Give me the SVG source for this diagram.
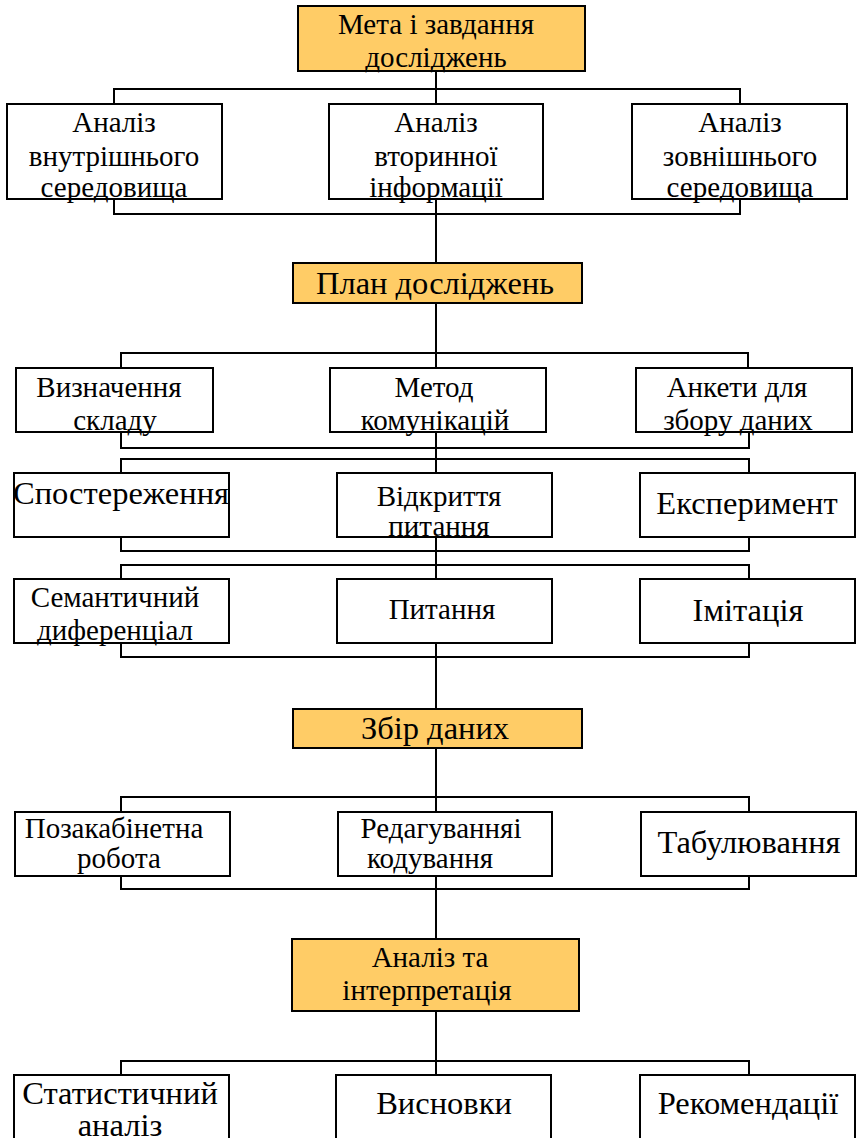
<svg xmlns="http://www.w3.org/2000/svg" width="857" height="1138" viewBox="0 0 857 1138">
<style>
.c{fill:none;stroke:#000;stroke-width:2}
.b{fill:#fff;stroke:#000;stroke-width:2}
.o{fill:#FFCC66;stroke:#000;stroke-width:2}
.t{font-size:29px;fill:#000;text-anchor:middle}
.L{font-size:32.5px}
</style>
<rect width="857" height="1138" fill="#fff"/>
<g id="connectors">
<path class="c" d="M436 71V104M114 104V89H740V104"/>
<path class="c" d="M114 199V214H740V199M436 199V263"/>
<path class="c" d="M436 303V368M121 368V353H748V368"/>
<path class="c" d="M121 432V448H749V432M436 432V473M121 473V459H749V473"/>
<path class="c" d="M121 537V551H749V537M436 537V579M121 579V565H749V579"/>
<path class="c" d="M121 643V657H749V643M436 643V709"/>
<path class="c" d="M436 748V812M121 812V797H749V812"/>
<path class="c" d="M121 876V889H749V876M436 876V939"/>
<path class="c" d="M436 1011V1075M121 1075V1061H749V1075"/>
</g>
<g class="t" font-family="Liberation Serif, Times New Roman, DejaVu Serif, serif">
<g id="n-goal"><rect class="o" x="298" y="6" width="287" height="65"/><text x="436" y="34">Мета і завдання</text><text x="436" y="67">досліджень</text></g>
<g id="n-internal"><rect class="b" x="7" y="104" width="215" height="95"/><text x="114" y="132">Аналіз</text><text x="114" y="166">внутрішнього</text><text x="114" y="197">середовища</text></g>
<g id="n-secondary"><rect class="b" x="329" y="104" width="214" height="95"/><text x="436" y="132">Аналіз</text><text x="436" y="166">вторинної</text><text x="436" y="197">інформації</text></g>
<g id="n-external"><rect class="b" x="632" y="104" width="215" height="95"/><text x="740" y="132">Аналіз</text><text x="740" y="166">зовнішнього</text><text x="740" y="197">середовища</text></g>
<g id="n-plan"><rect class="o" x="293" y="263" width="289" height="40"/><text class="L" x="435" y="294">План досліджень</text></g>
<g id="n-composition"><rect class="b" x="16" y="368" width="197" height="64"/><text x="109" y="397">Визначення</text><text x="115" y="430">складу</text></g>
<g id="n-method"><rect class="b" x="330" y="368" width="216" height="64"/><text x="434" y="397">Метод</text><text x="435" y="430">комунікацій</text></g>
<g id="n-forms"><rect class="b" x="636" y="368" width="216" height="64"/><text x="737" y="397">Анкети для</text><text x="738" y="430">збору даних</text></g>
<g id="n-observation"><rect class="b" x="14" y="473" width="215" height="64"/><text class="L" x="121" y="504">Спостереження</text></g>
<g id="n-open"><rect class="b" x="337" y="473" width="215" height="64"/><text x="439" y="506">Відкриття</text><text x="439" y="536">питання</text></g>
<g id="n-experiment"><rect class="b" x="640" y="473" width="215" height="64"/><text class="L" x="747" y="514">Експеримент</text></g>
<g id="n-semantic"><rect class="b" x="14" y="579" width="215" height="64"/><text x="115" y="607">Семантичний</text><text x="115" y="640">диференціал</text></g>
<g id="n-question"><rect class="b" x="337" y="579" width="215" height="64"/><text x="442" y="619">Питання</text></g>
<g id="n-imitation"><rect class="b" x="640" y="579" width="215" height="64"/><text class="L" x="748" y="621">Імітація</text></g>
<g id="n-collection"><rect class="o" x="293" y="709" width="289" height="39"/><text class="L" x="435" y="739">Збір даних</text></g>
<g id="n-field"><rect class="b" x="15" y="812" width="215" height="64"/><text x="114" y="838">Позакабінетна</text><text x="119" y="868">робота</text></g>
<g id="n-editing"><rect class="b" x="338" y="812" width="214" height="64"/><text x="441" y="838">Редагуванняі</text><text x="430" y="868">кодування</text></g>
<g id="n-tabulation"><rect class="b" x="641" y="812" width="215" height="64"/><text class="L" x="749" y="853">Табулювання</text></g>
<g id="n-analysis"><rect class="o" x="292" y="939" width="287" height="72"/><text x="430" y="967">Аналіз та</text><text x="427" y="1000">інтерпретація</text></g>
<g id="n-stat"><rect class="b" x="14" y="1075" width="215" height="80"/><text class="L" x="120" y="1104">Статистичний</text><text class="L" x="120" y="1136">аналіз</text></g>
<g id="n-conclusions"><rect class="b" x="336" y="1075" width="215" height="80"/><text class="L" x="444" y="1114">Висновки</text></g>
<g id="n-recommend"><rect class="b" x="640" y="1075" width="215" height="80"/><text class="L" x="748" y="1114">Рекомендації</text></g>
</g>
</svg>
